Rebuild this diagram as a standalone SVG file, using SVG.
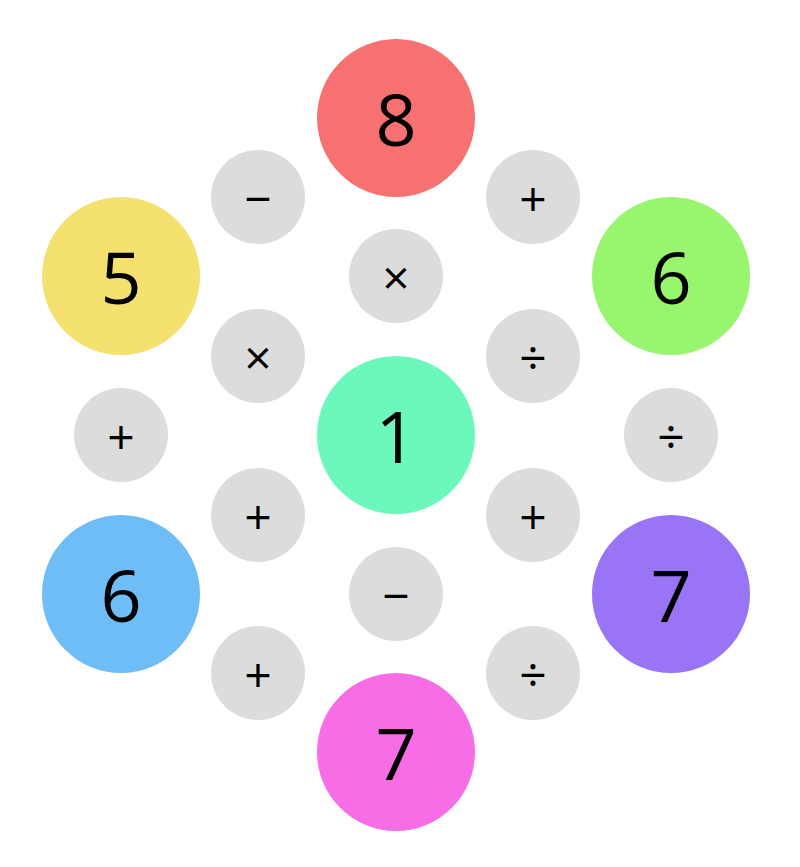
<svg xmlns="http://www.w3.org/2000/svg" width="800" height="867" viewBox="0 0 800 867">
<style>
.b{font-family:"Open Sans","Liberation Sans",sans-serif;font-size:72px;text-anchor:middle;dominant-baseline:central;fill:#000}
.s{font-family:"Open Sans","Liberation Sans",sans-serif;font-size:48px;text-anchor:middle;dominant-baseline:central;fill:#000}
.o{fill:#dcdcdc}
</style>
<rect width="800" height="867" fill="#fff"/>
<g id="n8"><circle cx="396" cy="118" r="79" fill="#f87171"/><text class="b" x="396" y="118">8</text></g>
<g id="n5"><circle cx="121" cy="276" r="79" fill="#f5e170"/><text class="b" x="121" y="276">5</text></g>
<g id="n6a"><circle cx="671" cy="276" r="79" fill="#97f56e"/><text class="b" x="671" y="276">6</text></g>
<g id="n1"><circle cx="396" cy="435" r="79" fill="#6cf7bc"/><text class="b" x="396" y="435">1</text></g>
<g id="n6b"><circle cx="121" cy="594" r="79" fill="#6fbdf7"/><text class="b" x="121" y="594">6</text></g>
<g id="n7a"><circle cx="671" cy="594" r="79" fill="#9a74f7"/><text class="b" x="671" y="594">7</text></g>
<g id="n7b"><circle cx="396" cy="752" r="79" fill="#f66de6"/><text class="b" x="396" y="752">7</text></g>
<g id="o1"><circle class="o" cx="258" cy="197" r="47"/><text class="s" x="258" y="197">−</text></g>
<g id="o2"><circle class="o" cx="533" cy="197" r="47"/><text class="s" x="533" y="197">+</text></g>
<g id="o3"><circle class="o" cx="396" cy="276" r="47"/><text class="s" x="396" y="276">×</text></g>
<g id="o4"><circle class="o" cx="258" cy="356" r="47"/><text class="s" x="258" y="356">×</text></g>
<g id="o5"><circle class="o" cx="533" cy="356" r="47"/><text class="s" x="533" y="356">÷</text></g>
<g id="o6"><circle class="o" cx="121" cy="435" r="47"/><text class="s" x="121" y="435">+</text></g>
<g id="o7"><circle class="o" cx="671" cy="435" r="47"/><text class="s" x="671" y="435">÷</text></g>
<g id="o8"><circle class="o" cx="258" cy="515" r="47"/><text class="s" x="258" y="515">+</text></g>
<g id="o9"><circle class="o" cx="533" cy="515" r="47"/><text class="s" x="533" y="515">+</text></g>
<g id="o10"><circle class="o" cx="396" cy="594" r="47"/><text class="s" x="396" y="594">−</text></g>
<g id="o11"><circle class="o" cx="258" cy="673" r="47"/><text class="s" x="258" y="673">+</text></g>
<g id="o12"><circle class="o" cx="533" cy="673" r="47"/><text class="s" x="533" y="673">÷</text></g>
<g id="connectors"/>
</svg>
